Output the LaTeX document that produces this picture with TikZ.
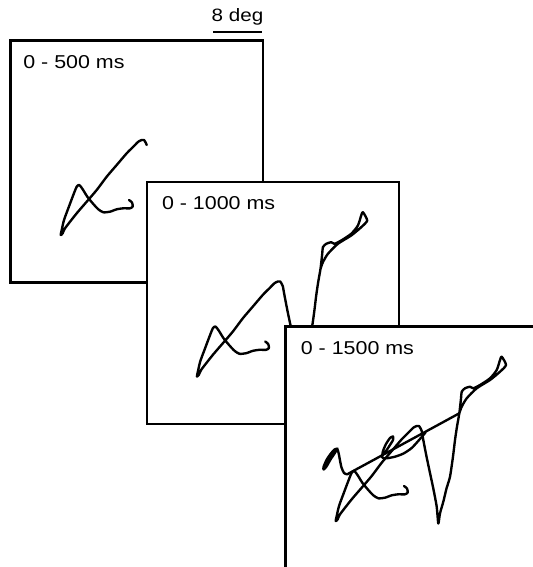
\documentclass[tikz,border=0pt]{standalone}
\usepackage{fontspec}
\newfontfamily\plotfont{Liberation Sans}[FakeStretch=1.15]
\usetikzlibrary{positioning}
\tikzstyle{panel}=[draw, line width=1.25pt, fill=white, inner sep=0pt, outer sep=0pt,
                   minimum width=5.05cm, minimum height=4.84cm, anchor=north west]
\tikzstyle{tag}=[inner sep=0pt, font=\plotfont\fontsize{10.6}{12}\selectfont]
\tikzstyle{smalltag}=[inner sep=0pt, font=\plotfont\fontsize{10.2}{12}\selectfont]
\tikzstyle{bar}=[line width=1.25pt]
\tikzstyle{trace}=[line width=1.35pt, line join=round, line cap=round]

% eye trace, in pixels from the top left corner of a panel
\newcommand{\partA}{plot[smooth, tension=0.4] coordinates {
  (118.5,159.5) (121.5,162) (122.2,166) (119.5,167.8) (112.8,167.8) (106.2,168.8)
  (99.5,171.2) (92.8,171.8) (87.8,168.8) (82.8,163.5) (76.8,156.2) (72.2,148.8)
  (68.8,144.5) (66.2,146.2) (62.8,154.5) (57.8,167.8) (53.5,179.5) (51.2,189.5)
  (50.2,194.5) (52.2,192.8) (54.5,187.8) (66.2,172.8) (76.2,161.2) (86.2,149.5)
  (96.2,136.2) (106.2,124.5) (116.2,112.8) (122.8,106.2) (127.8,101.2) (131.2,99.5)
  (133.5,99.5) (135.2,102.2) (136.2,104.5)}}
\newcommand{\partB}{plot[smooth, tension=0.4] coordinates {
  (136.2,104.5) (137.8,113.5) (141,130) (144.5,146.5) (148,163) (151.2,180.2)
  (152.8,197) (154.5,186.8) (157.8,175.2) (161,162) (164.5,150.2) (167.5,130)
  (169.5,113.5) (171.5,100) (173.8,86.8) (175.5,72) (176.2,65.2) (179.5,61.8)
  (184.5,60.2) (187.8,61.8) (194.5,58.5) (204.5,51.8) (211.2,43.5) (214.5,33.5)
  (216.2,30.2) (220.5,38.5) (214.5,45.2) (204.5,53.5) (191.2,61.8) (181.2,71.8)
  (176.2,80.2) (173.8,86.8)}}
\newcommand{\partC}{plot[smooth, tension=0.4] coordinates {
  (173.8,86.8) (145,102.5) (117,117.7) (90,132.4) (64,146.5) (61.8,147.8)
  (58.5,146.5) (56,141) (54.5,134) (53.2,127) (51.8,122.5) (49,123) (45,127.5)
  (41,133.5) (38,140.5) (38.2,143) (41,140) (45,133) (49,127) (52,122) (48,125)
  (43,132) (39.5,139)}}
\newcommand{\partD}{plot[smooth, tension=0.4] coordinates {
  (140,106) (134,113) (126.2,121.5) (118,127) (109.5,130.2) (101,131.8) (96.8,131)
  (97.5,124.5) (100.5,117.5) (104.5,111.5) (107.5,110) (107.5,113.5) (103.5,120)
  (99.5,126)}}

\begin{document}
\begin{tikzpicture}[x=0.02cm, y=-0.02cm]
    \useasboundingbox (0,0) rectangle (533,567);
    \clip (0,0) rectangle (533,567);

    % scale bar
    \coordinate (barL) at (213,32);
    \coordinate (barM) at (237.5,32);
    \coordinate (barR) at (262,32);
    \draw[bar] (barL) -- (barR);
    \node[smalltag, above=0.12cm of barM] (deg) {8 deg};

    % 0 - 500 ms
    \node[panel] (win1) at (10.5,40.5) {};
    \node[tag, below right=0.29cm and 0.25cm of win1.north west] (t500) {0 - 500 ms};
    \begin{scope}[shift={(win1.north west)}]
      \draw[trace] \partA;
    \end{scope}

    % 0 - 1000 ms
    \node[panel] (win2) at (146.7,182) {};
    \node[tag, below right=0.29cm and 0.3cm of win2.north west] (t1000) {0 - 1000 ms};
    \begin{scope}[shift={(win2.north west)}]
      \draw[trace] \partA \partB;
    \end{scope}

    % 0 - 1500 ms
    \node[panel] (win3) at (285.5,326.5) {};
    \node[tag, below right=0.29cm and 0.3cm of win3.north west] (t1500) {0 - 1500 ms};
    \begin{scope}[shift={(win3.north west)}]
      \draw[trace] \partA \partB;
      \draw[trace] \partC;
      \draw[trace] \partD;
    \end{scope}
\end{tikzpicture}
\end{document}
